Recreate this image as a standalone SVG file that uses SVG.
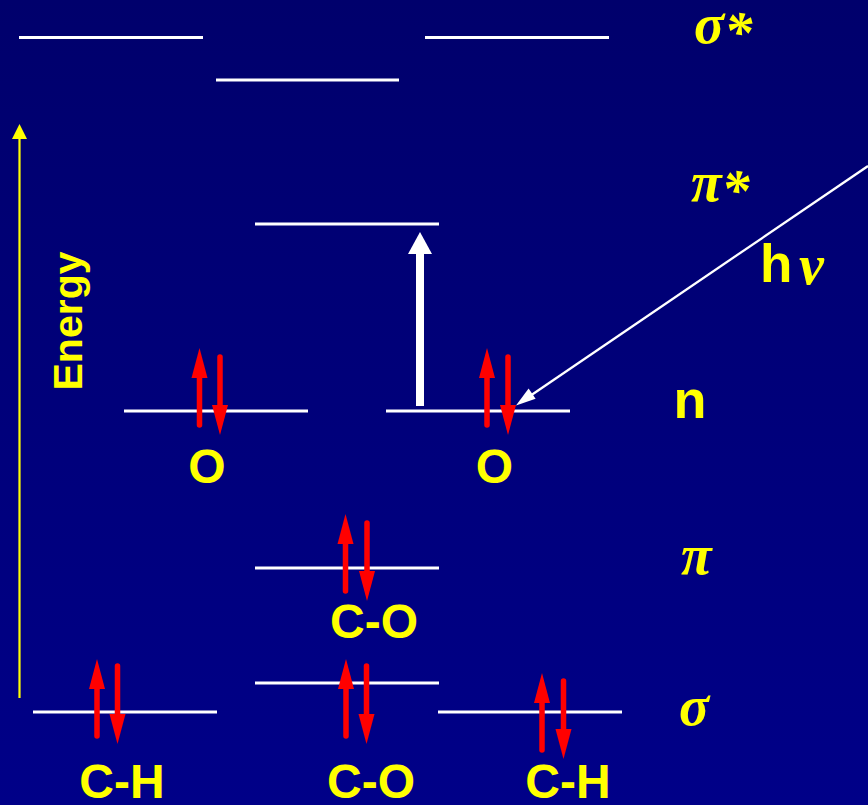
<svg xmlns="http://www.w3.org/2000/svg" xmlns:xlink="http://www.w3.org/1999/xlink" width="868" height="805" viewBox="0 0 868 805">
  <defs>
    <linearGradient id="bg" x1="0" y1="0" x2="0" y2="1">
      <stop offset="0" stop-color="#00006C"/>
      <stop offset="1" stop-color="#000088"/>
    </linearGradient>
    <g id="up">
      <line x1="0" y1="26" x2="0" y2="77" stroke="#FF0000" stroke-width="5.5" stroke-linecap="round"/>
      <polygon points="0,0 -8,30 8,30" fill="#FF0000"/>
    </g>
    <g id="down">
      <line x1="0" y1="-26" x2="0" y2="-78" stroke="#FF0000" stroke-width="5.5" stroke-linecap="round"/>
      <polygon points="0,0 -8,-30 8,-30" fill="#FF0000"/>
    </g>
  </defs>
  <style>
    .lvl { stroke: #FFFFFF; stroke-width: 3.2; }
    .lbl { fill: #FFFF00; font-family: "Liberation Sans", Arial, sans-serif; font-weight: bold; font-size: 48px; text-anchor: middle; }
    .greek { fill: #FFFF00; font-family: "Liberation Serif", "Times New Roman", serif; font-style: italic; font-weight: bold; font-size: 56px; }
  </style>
  <rect x="0" y="0" width="868" height="805" fill="url(#bg)"/>

  <g id="sigma-star">
    <line class="lvl" x1="19" y1="37.5" x2="203" y2="37.5"/>
    <line class="lvl" x1="216" y1="80" x2="399" y2="80"/>
    <line class="lvl" x1="425" y1="37.5" x2="609" y2="37.5"/>
    <text class="greek" x="694" y="43">σ<tspan dy="8">*</tspan></text>
  </g>

  <g id="pi-star">
    <line class="lvl" x1="255" y1="224" x2="439" y2="224"/>
    <text class="greek" x="691" y="201">π<tspan dy="8">*</tspan></text>
  </g>

  <g id="n-left">
    <line class="lvl" x1="124" y1="411" x2="308" y2="411"/>
    <use xlink:href="#up" x="199.5" y="348"/>
    <use xlink:href="#down" x="220" y="435"/>
    <text class="lbl" x="207" y="483">O</text>
  </g>

  <g id="n-right">
    <line class="lvl" x1="386" y1="411" x2="570" y2="411"/>
    <use xlink:href="#up" x="487" y="348"/>
    <use xlink:href="#down" x="508" y="435"/>
    <text class="lbl" x="494.5" y="483">O</text>
  </g>

  <g id="n-label">
    <text class="lbl" x="690" y="418" style="font-size:54px">n</text>
  </g>

  <g id="pi">
    <line class="lvl" x1="255" y1="568" x2="439" y2="568"/>
    <use xlink:href="#up" x="345.5" y="514"/>
    <use xlink:href="#down" x="367" y="601"/>
    <text class="lbl" x="374" y="638">C-O</text>
    <text class="greek" x="681" y="574">π</text>
  </g>

  <g id="sigma-left">
    <line class="lvl" x1="33" y1="712" x2="217" y2="712"/>
    <use xlink:href="#up" x="97" y="659"/>
    <use xlink:href="#down" x="117.5" y="744"/>
    <text class="lbl" x="122" y="798">C-H</text>
  </g>

  <g id="sigma-mid">
    <line class="lvl" x1="255" y1="683" x2="439" y2="683"/>
    <use xlink:href="#up" x="346" y="659"/>
    <use xlink:href="#down" x="366.5" y="744"/>
    <text class="lbl" x="371" y="798">C-O</text>
  </g>

  <g id="sigma-right">
    <line class="lvl" x1="438" y1="712" x2="622" y2="712"/>
    <use xlink:href="#up" x="542" y="673"/>
    <use xlink:href="#down" x="563.5" y="759"/>
    <text class="lbl" x="568" y="798">C-H</text>
    <text class="greek" x="679" y="725">σ</text>
  </g>

  <g id="energy-label">
    <text class="lbl" transform="translate(82,321) rotate(-90)" style="font-size:41px">Energy</text>
  </g>

  <g id="hv-label">
    <text x="760" y="282" fill="#FFFF00" font-family="Liberation Sans, Arial, sans-serif" font-weight="bold" font-size="53">h</text>
    <text class="greek" x="799" y="284">ν</text>
  </g>

  <g id="connectors">
    <line x1="19.5" y1="698" x2="19.5" y2="136" stroke="#FFFF00" stroke-width="2.2"/>
    <polygon points="19.5,124 12,139 27,139" fill="#FFFF00"/>
    <line x1="420" y1="406" x2="420" y2="252" stroke="#FFFFFF" stroke-width="8"/>
    <polygon points="420,232 408,254 432,254" fill="#FFFFFF"/>
    <line x1="868" y1="166" x2="530" y2="396" stroke="#FFFFFF" stroke-width="2.3"/>
    <polygon points="516,405.5 528.6,388.4 535.6,398.7" fill="#FFFFFF"/>
  </g>
</svg>
